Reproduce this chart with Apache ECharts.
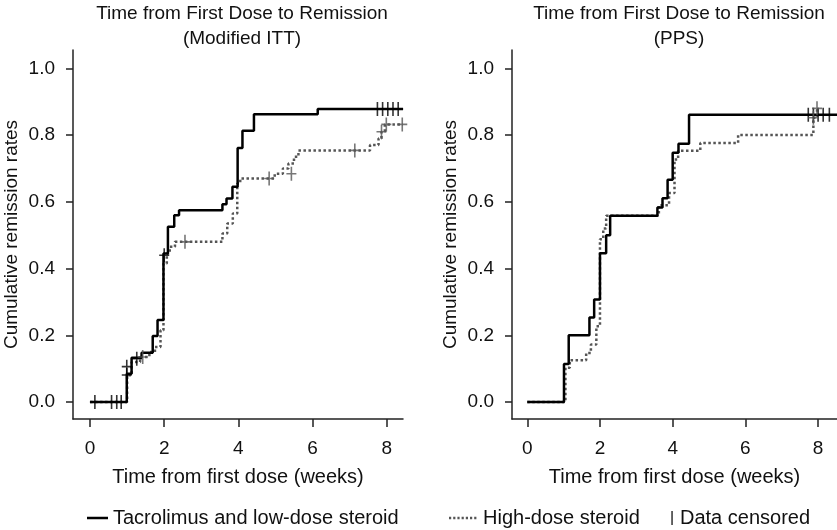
<!DOCTYPE html>
<html>
<head>
<meta charset="utf-8">
<script src="https://cdn.jsdelivr.net/npm/echarts@6/dist/echarts.min.js"></script>
<style>
  html, body { margin: 0; background: #fff; }
  #chart { width: 837px; height: 530px; }
</style>
</head>
<body>
<div id="chart"></div>
<script>
// tick values shared by both panels
const weekTicks = [0, 2, 4, 6, 8];
const rateTicks = [0, 0.2, 0.4, 0.6, 0.8, 1.0];

// Modified ITT: [week, cumulative remission rate], value holds until next point
const ittTacrolimus = [
  [0, 0], [0.99, 0.085], [1.12, 0.133], [1.39, 0.148], [1.69, 0.198],
  [1.82, 0.246], [1.98, 0.445], [2.1, 0.525], [2.27, 0.56], [2.4, 0.575],
  [3.57, 0.593], [3.68, 0.61], [3.84, 0.645], [3.98, 0.761], [4.11, 0.813],
  [4.42, 0.862], [6.14, 0.878], [8.44, 0.878]
];
const ittHighDose = [
  [0, 0], [1.0, 0.08], [1.12, 0.12], [1.35, 0.135], [1.6, 0.15],
  [1.75, 0.165], [1.9, 0.215], [1.98, 0.415], [2.07, 0.445], [2.15, 0.465],
  [2.29, 0.48], [3.57, 0.505], [3.7, 0.535], [3.85, 0.565], [3.97, 0.655],
  [4.05, 0.67], [4.98, 0.684], [5.2, 0.7], [5.35, 0.715], [5.5, 0.735],
  [5.62, 0.754], [7.55, 0.77], [7.78, 0.79], [7.86, 0.81], [7.95, 0.832],
  [8.44, 0.832]
];
const ittTacrolimusCensored = [
  [0.13, 0], [0.58, 0], [0.72, 0], [0.84, 0], [0.99, 0.106], [0.99, 0.081],
  [1.26, 0.13], [2.0, 0.44], [7.75, 0.878], [7.89, 0.878], [8.03, 0.878],
  [8.17, 0.878], [8.31, 0.878]
];
const ittHighDoseCensored = [
  [1.42, 0.135], [2.56, 0.48], [4.83, 0.67], [5.43, 0.684], [7.14, 0.754],
  [7.86, 0.81], [7.99, 0.832], [8.42, 0.832]
];

// PPS
const ppsTacrolimus = [
  [0, 0], [1.01, 0.114], [1.14, 0.2], [1.71, 0.253], [1.84, 0.307],
  [2.0, 0.446], [2.17, 0.5], [2.28, 0.558], [3.58, 0.583], [3.72, 0.611],
  [3.86, 0.666], [4.0, 0.747], [4.16, 0.774], [4.45, 0.861], [8.52, 0.861]
];
const ppsHighDose = [
  [0, 0], [1.05, 0.103], [1.17, 0.125], [1.62, 0.147], [1.75, 0.172],
  [1.9, 0.227], [2.0, 0.488], [2.09, 0.52], [2.17, 0.558], [3.62, 0.59],
  [3.9, 0.626], [4.05, 0.727], [4.15, 0.753], [4.76, 0.776], [5.8, 0.8],
  [7.87, 0.852], [7.97, 0.875], [8.05, 0.875]
];
const ppsTacrolimusCensored = [
  [7.73, 0.861], [7.87, 0.861], [8.0, 0.861], [8.14, 0.861], [8.31, 0.861]
];
const ppsHighDoseCensored = [[7.87, 0.852], [7.97, 0.88]];

const FONT = "'Liberation Sans', Arial, Helvetica, sans-serif";
const TEXT = "#111";
const AXIS = "#222";
const SOLID = "#000";
const DOTTED = "#555";
const CROSS = "path://M4.2,0h1.6v14h-1.6zM0,6.2h10v1.6h-10z";

// legend icons (29 x 14 box); the tiny squares at the corners only pin the box size
const PIN = "M0,0h0.01v0.01h-0.01zM28.99,13.99h0.01v0.01h-0.01z";
const SOLID_ICON = "path://" + PIN + "M8,5.8h21v2.4h-21z";
let dots = "";
for (let x = 0; x < 29; x += 4.2) dots += "M" + x + ",5.8h2.2v2.4h-2.2z";
const DOTTED_ICON = "path://" + PIN + dots;
const CENSOR_ICON = "path://M0,0h0.01v0.01h-0.01zM5.99,13.99h0.01v0.01h-0.01zM2.3,0h1.5v14h-1.5z";

function xAxisFor(gridIndex, min, max) {
  return {
    gridIndex, type: "value", min, max,
    name: "Time from first dose (weeks)",
    nameLocation: "middle", nameGap: 48,
    nameTextStyle: { fontSize: 20, color: TEXT, fontFamily: FONT },
    axisLine: { show: true, onZero: false, lineStyle: { color: AXIS, width: 1.5 } },
    axisTick: { show: true, length: 8, customValues: weekTicks, lineStyle: { color: AXIS, width: 1.5 } },
    axisLabel: { customValues: weekTicks, fontSize: 19, color: TEXT, fontFamily: FONT, margin: 20 },
    splitLine: { show: false }
  };
}

function yAxisFor(gridIndex) {
  return {
    gridIndex, type: "value", min: -0.0509, max: 1.0549,
    name: "Cumulative remission rates",
    nameLocation: "middle", nameGap: 52,
    nameTextStyle: { fontSize: 19, color: TEXT, fontFamily: FONT },
    axisLine: { show: true, onZero: false, lineStyle: { color: AXIS, width: 1.5 } },
    axisTick: { show: true, length: 7, customValues: rateTicks, lineStyle: { color: AXIS, width: 1.5 } },
    axisLabel: {
      customValues: rateTicks, fontSize: 19, color: TEXT, fontFamily: FONT, margin: 18,
      formatter: (v) => v.toFixed(1)
    },
    splitLine: { show: false }
  };
}

function curve(name, data, idx, dotted) {
  return {
    name, type: "line", step: "end", data,
    xAxisIndex: idx, yAxisIndex: idx,
    symbol: "none", showSymbol: false,
    itemStyle: { color: dotted ? DOTTED : SOLID },
    lineStyle: { color: dotted ? DOTTED : SOLID, width: 2.5, type: dotted ? "dotted" : "solid" },
    z: dotted ? 2 : 3
  };
}

function censored(data, idx, color) {
  return {
    name: "Data censored", type: "scatter", data,
    xAxisIndex: idx, yAxisIndex: idx,
    symbol: CROSS, symbolSize: [10, 14],
    itemStyle: { color },
    z: 4
  };
}

// one legend per entry so each can sit where the reference puts it
function legendAt(left, name, icon, width, color) {
  return {
    left, top: 508, padding: 0, itemWidth: width, itemHeight: 14,
    textStyle: { fontSize: 20, color: TEXT, fontFamily: FONT },
    data: [{ name, icon, itemStyle: { color } }]
  };
}

const chart = echarts.init(document.getElementById("chart"));
chart.setOption({
  animation: false,
  backgroundColor: "#fff",
  title: [
    {
      text: "Time from First Dose to Remission\n(Modified ITT)",
      left: 237, top: -4, textAlign: "center",
      textStyle: { fontSize: 19, fontWeight: "normal", color: TEXT, fontFamily: FONT, lineHeight: 25 }
    },
    {
      text: "Time from First Dose to Remission\n(PPS)",
      left: 674, top: -4, textAlign: "center",
      textStyle: { fontSize: 19, fontWeight: "normal", color: TEXT, fontFamily: FONT, lineHeight: 25 }
    }
  ],
  legend: [
    legendAt(79, "Tacrolimus and low-dose steroid", SOLID_ICON, 29, SOLID),
    legendAt(449, "High-dose steroid", DOTTED_ICON, 29, DOTTED),
    legendAt(669, "Data censored", CENSOR_ICON, 6, SOLID)
  ],
  grid: [
    { left: 73, top: 50, width: 330, height: 369 },
    { left: 512, top: 50, width: 325, height: 369 }
  ],
  xAxis: [xAxisFor(0, -0.46, 8.44), xAxisFor(1, -0.42, 8.52)],
  yAxis: [yAxisFor(0), yAxisFor(1)],
  series: [
    curve("Tacrolimus and low-dose steroid", ittTacrolimus, 0, false),
    curve("High-dose steroid", ittHighDose, 0, true),
    curve("Tacrolimus and low-dose steroid", ppsTacrolimus, 1, false),
    curve("High-dose steroid", ppsHighDose, 1, true),
    censored(ittTacrolimusCensored, 0, SOLID),
    censored(ittHighDoseCensored, 0, DOTTED),
    censored(ppsTacrolimusCensored, 1, SOLID),
    censored(ppsHighDoseCensored, 1, DOTTED)
  ]
});
</script>
</body>
</html>
